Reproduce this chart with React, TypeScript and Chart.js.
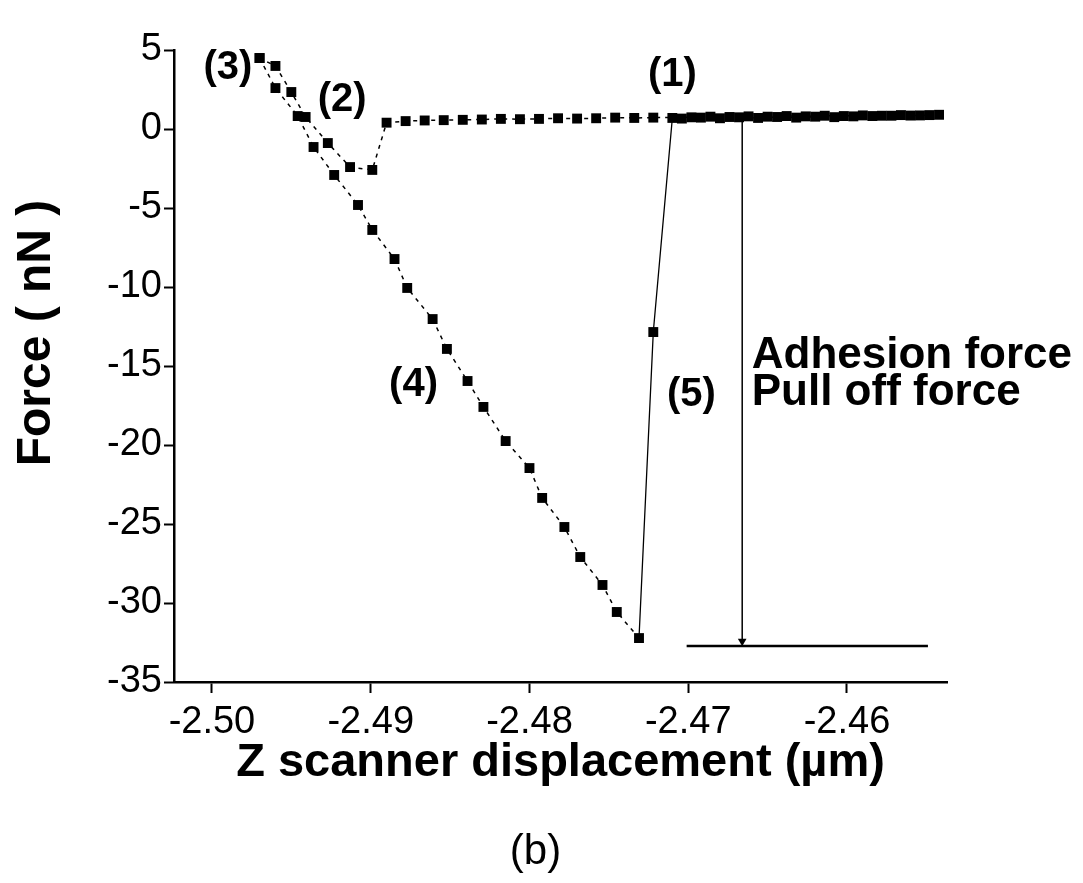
import React, { useEffect, useRef } from "react";
import { Chart, registerables } from "chart.js";

Chart.register(...registerables);

const FONT = '"Liberation Sans", Arial, Helvetica, sans-serif';

// Approach curve: flat baseline (right to left), snap-in at (2), contact up to (3)
const approachX = [
  -2.4542, -2.4554, -2.4566, -2.4578, -2.459, -2.4602, -2.4614, -2.4626, -2.4638, -2.465,
  -2.4662, -2.4674, -2.4686, -2.4698, -2.4722, -2.4734, -2.4746, -2.4758, -2.477, -2.4782,
  -2.4794, -2.4806, -2.4818, -2.483, -2.4842, -2.4854, -2.4866, -2.4878, -2.489,
  -2.4899, -2.4913, -2.4927, -2.4941, -2.495, -2.496, -2.497,
];
const approachF = [
  0.9, 0.86, 0.88, 0.84, 0.86, 0.82, 0.84, 0.8, 0.82, 0.78,
  0.8, 0.76, 0.78, 0.74, 0.72, 0.7, 0.72, 0.68, 0.66, 0.68,
  0.64, 0.62, 0.64, 0.6, 0.58, 0.56, 0.54, 0.5, 0.4,
  -2.59, -2.41, -0.89, 0.76, 2.34, 3.99, 4.49,
];

// Retraction curve: from (3) down along (4), pull-off at (5), back to baseline
const retractX = [
  -2.497, -2.496, -2.4946, -2.4936, -2.4923, -2.4908, -2.4899, -2.4885, -2.4877, -2.4861,
  -2.4852, -2.4839, -2.4829, -2.4815, -2.48, -2.4792, -2.4778, -2.4768, -2.4754, -2.4745,
  -2.4731, -2.4722, -2.471, -2.4704, -2.4692, -2.468, -2.4668, -2.4656, -2.4644, -2.4632,
  -2.462, -2.4608, -2.4596, -2.4584, -2.4572, -2.456, -2.4548,
];
const retractF = [
  4.49, 2.59, 0.82, -1.14, -2.91, -4.81, -6.39, -8.23, -10.06, -12.03,
  -13.92, -15.95, -17.59, -19.75, -21.46, -23.35, -25.19, -27.09, -28.86, -30.57,
  -32.22, -12.85, 0.7, 0.66, 0.72, 0.68, 0.74, 0.7, 0.76, 0.72,
  0.78, 0.75, 0.8, 0.82, 0.84, 0.85, 0.88,
];

// Adhesion (pull-off) force marker
const arrowX = [-2.4666, -2.4666];
const arrowF = [0.45, -32.42];
const floorX = [-2.4701, -2.4549];
const floorF = [-32.72, -32.72];

const xTicks = [-2.5, -2.49, -2.48, -2.47, -2.46];
const yTicks = [5, 0, -5, -10, -15, -20, -25, -30, -35];

const markTexts = ["(1)", "(2)", "(3)", "(4)", "(5)"];
const markX = [-2.471, -2.4918, -2.499, -2.4873, -2.4698];
const markF = [3.42, 1.84, 3.86, -16.2, -16.84];

const noteLines = ["Adhesion force", "Pull off force"];
const noteX = [-2.466, -2.466];
const noteF = [-14.37, -16.71];

const xTitle = "Z scanner displacement (\u00b5m)";
const yTitle = "Force ( nN )";
const caption = "(b)";

const toPts = (xs: number[], ys: number[]) => xs.map((x, i) => ({ x, y: ys[i] }));

const annotate = {
  id: "annotate",
  afterDraw(chart: any) {
    const { ctx, scales, chartArea } = chart;
    const x = scales.x;
    const y = scales.y;
    ctx.save();
    ctx.fillStyle = "#000";
    ctx.textAlign = "center";
    ctx.textBaseline = "middle";
    ctx.font = `bold 40px ${FONT}`;
    markTexts.forEach((t, i) => {
      ctx.fillText(t, x.getPixelForValue(markX[i]), y.getPixelForValue(markF[i]));
    });
    ctx.textAlign = "left";
    ctx.font = `bold 44px ${FONT}`;
    noteLines.forEach((t, i) => {
      ctx.fillText(t, x.getPixelForValue(noteX[i]), y.getPixelForValue(noteF[i]));
    });
    // y-axis title
    ctx.save();
    ctx.translate(chartArea.left - 137, (chartArea.top + chartArea.bottom) / 2 - 33);
    ctx.rotate(-Math.PI / 2);
    ctx.textAlign = "center";
    ctx.font = `bold 48px ${FONT}`;
    ctx.fillText(yTitle, 0, 0);
    ctx.restore();
    // caption
    ctx.textAlign = "center";
    ctx.font = `42px ${FONT}`;
    ctx.fillText(caption, (chartArea.left + chartArea.right) / 2 - 25, chartArea.bottom + 170);
    ctx.restore();
  },
};

export default function App() {
  const ref = useRef<HTMLCanvasElement | null>(null);

  useEffect(() => {
    if (!ref.current) return;
    Chart.defaults.font.family = FONT;
    Chart.defaults.color = "#000";
    const chart = new Chart(ref.current, {
      type: "scatter",
      data: {
        datasets: [
          {
            data: toPts(approachX, approachF),
            showLine: true,
            borderColor: "#000",
            backgroundColor: "#000",
            borderWidth: 1.5,
            borderDash: [4, 5],
            pointStyle: "rect",
            pointRadius: 7,
            pointBorderWidth: 0,
          },
          {
            data: toPts(retractX, retractF),
            showLine: true,
            borderColor: "#000",
            backgroundColor: "#000",
            borderWidth: 1.5,
            borderDash: [4, 5],
            pointStyle: "rect",
            pointRadius: 7,
            pointBorderWidth: 0,
            segment: {
              borderDash: (c: any) =>
                Math.abs(c.p1.parsed.y - c.p0.parsed.y) > 8 ? [] : undefined,
              borderWidth: (c: any) =>
                Math.abs(c.p1.parsed.y - c.p0.parsed.y) > 8 ? 1.3 : undefined,
            },
          },
          {
            data: toPts(arrowX, arrowF),
            showLine: true,
            borderColor: "#000",
            backgroundColor: "#000",
            borderWidth: 1.5,
            pointStyle: "triangle",
            pointRotation: 180,
            pointRadius: [0, 5],
            pointBorderWidth: 0,
          },
          {
            data: toPts(floorX, floorF),
            showLine: true,
            borderColor: "#000",
            borderWidth: 2.5,
            pointRadius: 0,
          },
        ],
      },
      options: {
        animation: false,
        responsive: false,
        devicePixelRatio: 1,
        layout: { padding: { top: 50, right: 136, left: 0, bottom: 0 } },
        plugins: { legend: { display: false }, tooltip: { enabled: false } },
        scales: {
          x: {
            type: "linear",
            min: -2.50239,
            max: -2.4537,
            afterBuildTicks: (s: any) => {
              s.ticks = xTicks.map((v) => ({ value: v }));
            },
            afterFit: (s: any) => {
              s.height = 201;
            },
            ticks: {
              callback: (v: any) => Number(v).toFixed(2),
              font: { size: 38 },
              color: "#000",
              padding: 7,
              maxRotation: 0,
            },
            grid: { drawOnChartArea: false, tickLength: 11, tickWidth: 2, color: "#000" },
            border: { color: "#000", width: 2.5 },
            title: {
              display: true,
              text: xTitle,
              font: { size: 47, weight: "bold" },
              color: "#000",
              padding: { top: 0, bottom: 92 },
            },
          },
          y: {
            type: "linear",
            min: -35,
            max: 5,
            afterBuildTicks: (s: any) => {
              s.ticks = yTicks.map((v) => ({ value: v }));
            },
            afterFit: (s: any) => {
              s.width = 174;
            },
            ticks: {
              callback: (v: any) => String(v),
              font: { size: 38 },
              color: "#000",
              padding: 2,
            },
            grid: { drawOnChartArea: false, tickLength: 10, tickWidth: 2, color: "#000" },
            border: { color: "#000", width: 2.5 },
          },
        },
      },
      plugins: [annotate],
    } as any);
    return () => chart.destroy();
  }, []);

  return (
    <div style={{ position: "fixed", left: 0, top: 0, width: 1083, height: 883, background: "#fff" }}>
      <canvas ref={ref} width={1083} height={883} style={{ display: "block" }} />
    </div>
  );
}
